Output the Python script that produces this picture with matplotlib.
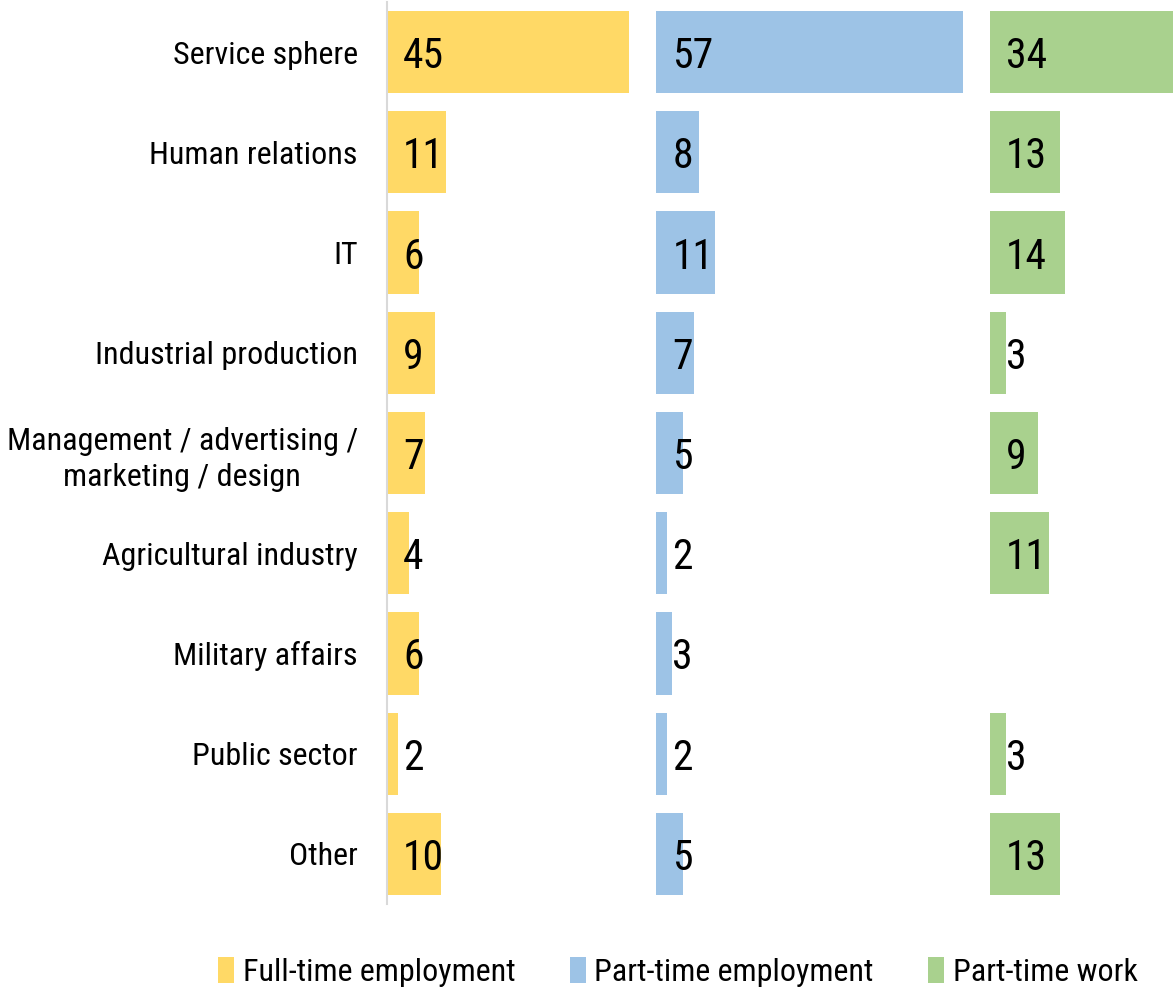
import matplotlib
matplotlib.use("Agg")
import matplotlib.pyplot as plt
from matplotlib.patches import Patch

plt.rcParams['font.family'] = ['Roboto Condensed', 'Roboto', 'DejaVu Sans']

categories = [
    "Service sphere",
    "Human relations",
    "IT",
    "Industrial production",
    "Management / advertising /\nmarketing / design",
    "Agricultural industry",
    "Military affairs",
    "Public sector",
    "Other",
]
full_time = [45, 11, 6, 9, 7, 4, 6, 2, 10]
part_time_employment = [57, 8, 11, 7, 5, 2, 3, 2, 5]
part_time_work = [34, 13, 14, 3, 9, 11, 0, 3, 13]
series_names = ["Full-time employment", "Part-time employment", "Part-time work"]
colors = ["#FFD966", "#9DC3E6", "#A9D18E"]

series = [full_time, part_time_employment, part_time_work]

# each series sits in its own column; columns are separated by a fixed gap
gap = 5
offsets = [0]
for s in series[:-1]:
    offsets.append(offsets[-1] + max(s) + gap)

fig = plt.figure(figsize=(11.73, 9.9), dpi=100)
ax = fig.add_axes([387 / 1173, 1 - 904 / 990, 1 - 387 / 1173, 902 / 990])

ypos = list(range(len(categories)))
for vals, off, col in zip(series, offsets, colors):
    for y, v in zip(ypos, vals):
        if v <= 0:
            continue
        ax.barh(y, v, left=off, height=0.82, color=col, edgecolor="none")
        ax.text(off + 3.0, y, str(v), ha="left", va="center_baseline",
                fontsize=30, color="black")

ax.set_ylim(len(categories) - 0.5, -0.5)
ax.set_xlim(0, offsets[-1] + max(series[-1]))
ax.set_yticks(ypos)
ax.set_yticklabels(categories, fontsize=23, multialignment="center",
                   linespacing=1.3)
ax.tick_params(axis="y", length=0, pad=21)
ax.set_xticks([])
for side in ["top", "right", "bottom"]:
    ax.spines[side].set_visible(False)
ax.spines["left"].set_color("#D9D9D9")
ax.spines["left"].set_linewidth(1.5)

handles = [Patch(facecolor=c, edgecolor="none") for c in colors]
fig.legend(handles, series_names, loc="center", bbox_to_anchor=(678 / 1173, 1 - 972 / 990),
           ncol=3, frameon=False, fontsize=23, handlelength=0.5, handleheight=0.85,
           handletextpad=0.27, columnspacing=1.7)

fig.savefig("out.png", dpi=100)
